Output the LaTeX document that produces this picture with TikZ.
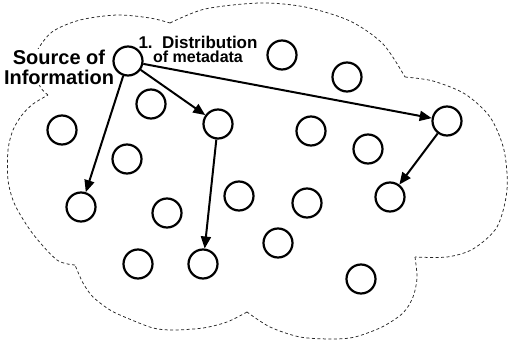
\documentclass[tikz,border=0pt]{standalone}
\usepackage{fontspec}
\setmainfont{Liberation Sans}
\usetikzlibrary{arrows.meta}
\begin{document}
\begin{tikzpicture}[x=1pt,y=-1pt,
  peer/.style={circle,draw=black,line width=2.2pt,minimum size=29pt,inner sep=0pt},
  link/.style={line width=2pt,draw=black,-{Triangle[length=12pt,width=10pt]}},
  cloudline/.style={draw=black!85,line width=0.75pt,dash pattern=on 3pt off 2.5pt},
  lbl/.style={font=\bfseries,align=center,inner sep=1pt}]
\useasboundingbox (0,0) rectangle (509,343);
% cloud outline
\draw[cloudline] plot[smooth] coordinates {(48,95) (41,88) (34,72) (36,53) (52,32) (80,20) (117,15) (150,18) (170,23)};
\draw[cloudline] plot[smooth] coordinates {(170,23) (205,9) (260,3) (305,7) (350,21) (383,44) (405,77)};
\draw[cloudline] plot[smooth] coordinates {(405,77) (433,81) (465,94) (490,117) (504,150) (507,190) (497,227) (473,249) (447,257) (415,257)};
\draw[cloudline] plot[smooth] coordinates {(415,257) (417,278) (413,297) (403,313) (382,327) (355,337) (333,339) (300,337) (270,327) (247,312)};
\draw[cloudline] plot[smooth] coordinates {(247,312) (227,322) (203,328) (173,330) (153,328) (127,318) (110,310) (93,297) (83,283) (75,265)};
\draw[cloudline] plot[smooth] coordinates {(75,265) (57,260) (33,234) (15,205) (8,180) (8,150) (13,130) (22,115) (33,104) (48,95)};
% labels
\node[lbl,fill=white,font=\bfseries\fontsize{20}{20}\selectfont] (srclbl) at (59,67) {Source of\\Information};
\node[lbl,font=\bfseries\fontsize{17}{14}\selectfont] (distlbl) at (198,49) {1.~~Distribution\\\fontsize{16}{14}\selectfont of metadata};
% peers
\node[peer] (src) at (128,61) {};
\node[peer] (c1) at (282,55) {};
\node[peer] (c2) at (347,77) {};
\node[peer] (c3) at (151,104) {};
\node[peer] (t1) at (218,124) {};
\node[peer] (c4) at (62,130) {};
\node[peer] (c5) at (311,131) {};
\node[peer] (c6) at (368,149) {};
\node[peer] (t2) at (447,121) {};
\node[peer] (c7) at (127,159) {};
\node[peer] (t3) at (81,207) {};
\node[peer] (c8) at (239,196) {};
\node[peer] (c9) at (167,213) {};
\node[peer] (c10) at (307,203) {};
\node[peer] (t4) at (390,197) {};
\node[peer] (c11) at (278,243) {};
\node[peer] (c12) at (138,264) {};
\node[peer] (t5) at (203,264) {};
\node[peer] (c13) at (361,279) {};
% links
\draw[link] (src) -- (t3);
\draw[link] (src) -- (t1);
\draw[link] (src) -- (t2);
\draw[link] (t1) -- (t5);
\draw[link] (t2) -- (t4);
\end{tikzpicture}
\end{document}
